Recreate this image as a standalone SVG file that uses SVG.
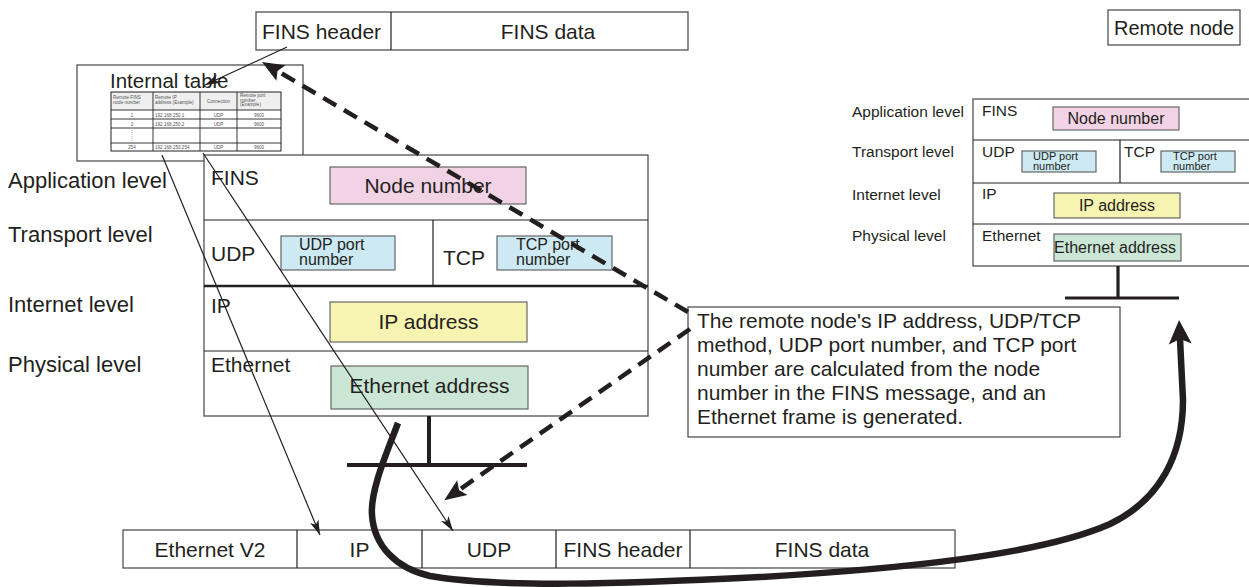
<svg xmlns="http://www.w3.org/2000/svg" width="1249" height="587" viewBox="0 0 1249 587">
<style>
.t{font-family:"Liberation Sans",Arial,Helvetica,sans-serif;fill:#231f20}
.box{fill:#fff;stroke:#444;stroke-width:1.2}
.ln{stroke:#231f20;stroke-width:1.2;fill:none}
.pink{fill:#f2d3e5;stroke:#666;stroke-width:1.2}
.blue{fill:#cde9f4;stroke:#666;stroke-width:1.2}
.yel{fill:#f7f3b1;stroke:#666;stroke-width:1.2}
.grn{fill:#cbe6d5;stroke:#666;stroke-width:1.2}
.f22{font-size:22px}
.f21{font-size:21px}
.f16{font-size:16px}
.f15{font-size:15.5px}
.f11{font-size:11px}
.tiny{font-size:4.6px;fill:#555}
.tc{text-anchor:middle}
.stub{stroke:#231f20;stroke-width:4;fill:none}
.thin{stroke:#231f20;stroke-width:1.2;fill:none}
.dash{stroke:#231f20;stroke-width:4.5;fill:none;stroke-dasharray:15 9}
.thick{stroke:#231f20;stroke-width:6.5;fill:none}
</style>
<defs>
<marker id="mThin" markerUnits="userSpaceOnUse" viewBox="-16 -6 18 12" refX="0" refY="0" markerWidth="18" markerHeight="12" orient="auto">
<path d="M0,0 L-15,-4.5 L-11,0 L-15,4.5 Z" fill="#231f20"/>
</marker>
<marker id="mDash" markerUnits="userSpaceOnUse" viewBox="-6 -10 26 20" refX="0" refY="0" markerWidth="26" markerHeight="20" orient="auto">
<path d="M18,0 L-4,-9 L0,0 L-4,9 Z" fill="#231f20"/>
</marker>
<marker id="mThick" markerUnits="userSpaceOnUse" viewBox="-6 -13 28 26" refX="0" refY="0" markerWidth="28" markerHeight="26" orient="auto">
<path d="M19,0 L-5,-11.5 L0,0 L-5,11.5 Z" fill="#231f20"/>
</marker>
</defs>

<g id="fins-message">
<rect class="box" x="256" y="12" width="432" height="38"/>
<line class="ln" x1="391" y1="12" x2="391" y2="50"/>
<text class="t f21" x="262" y="39">FINS header</text>
<text class="t f21 tc" x="548" y="39">FINS data</text>
</g>

<g id="internal-table">
<rect class="box" x="77" y="65" width="226" height="96"/>
<text class="t" x="110" y="88" font-size="20.5">Internal table</text>
<rect x="111" y="92" width="170" height="18" fill="#efefef"/>
<rect x="111" y="92" width="170" height="59" fill="none" stroke="#231f20" stroke-width="1"/>
<g stroke="#231f20" stroke-width="0.9">
<line x1="111" y1="110" x2="281" y2="110"/>
<line x1="111" y1="119" x2="281" y2="119"/>
<line x1="111" y1="128" x2="281" y2="128"/>
<line x1="111" y1="143" x2="281" y2="143"/>
<line x1="153" y1="92" x2="153" y2="151"/>
<line x1="200" y1="92" x2="200" y2="151"/>
<line x1="237" y1="92" x2="237" y2="151"/>
</g>
<line x1="132" y1="130" x2="132" y2="141" stroke="#777" stroke-width="0.6" stroke-dasharray="1 1"/>
<text class="t tiny" x="113" y="99">Remote FINS</text>
<text class="t tiny" x="113" y="104">node number</text>
<text class="t tiny" x="155" y="99">Remote IP</text>
<text class="t tiny" x="155" y="104">address (Example)</text>
<text class="t tiny tc" x="218.5" y="103">Connection</text>
<text class="t tiny" x="240" y="97">Remote port</text>
<text class="t tiny" x="240" y="101.5">number</text>
<text class="t tiny" x="240" y="106">(Example)</text>
<text class="t tiny tc" x="132" y="116.5">1</text>
<text class="t tiny" x="155" y="116.5">192.168.250.1</text>
<text class="t tiny tc" x="218.5" y="116.5">UDP</text>
<text class="t tiny tc" x="259" y="116.5">9600</text>
<text class="t tiny tc" x="132" y="125.5">2</text>
<text class="t tiny" x="155" y="125.5">192.168.250.2</text>
<text class="t tiny tc" x="218.5" y="125.5">UDP</text>
<text class="t tiny tc" x="259" y="125.5">9600</text>
<text class="t tiny tc" x="132" y="149">254</text>
<text class="t tiny" x="155" y="149">192.168.250.254</text>
<text class="t tiny tc" x="218.5" y="149">UDP</text>
<text class="t tiny tc" x="259" y="149">9600</text>
</g>

<g id="local-labels">
<text class="t f22" x="8" y="188">Application level</text>
<text class="t f22" x="8" y="242">Transport level</text>
<text class="t f22" x="8" y="312">Internet level</text>
<text class="t f22" x="8" y="372">Physical level</text>
</g>

<g id="local-stack">
<rect class="box" x="204" y="155" width="444" height="261"/>
<line class="ln" x1="204" y1="220" x2="648" y2="220"/>
<line x1="204" y1="286" x2="648" y2="286" stroke="#231f20" stroke-width="2.4"/>
<line class="ln" x1="204" y1="351" x2="648" y2="351"/>
<line class="ln" x1="433" y1="220" x2="433" y2="286"/>
<rect class="pink" x="330" y="167" width="196" height="37"/>
<rect class="blue" x="281" y="236" width="114" height="34"/>
<rect class="blue" x="497" y="236" width="115" height="34"/>
<rect class="yel" x="330" y="302" width="197" height="40"/>
<rect class="grn" x="331" y="366" width="197" height="43"/>
<text class="t f21" x="211" y="185">FINS</text>
<text class="t f21 tc" x="428" y="193">Node number</text>
<text class="t f21" x="211" y="261">UDP</text>
<text class="t f16" x="299" y="250">UDP port</text>
<text class="t f16" x="299" y="265">number</text>
<text class="t f21" x="443" y="265">TCP</text>
<text class="t f16" x="516" y="250">TCP port</text>
<text class="t f16" x="516" y="265">number</text>
<text class="t f21" x="211" y="313">IP</text>
<text class="t f21 tc" x="428.5" y="329">IP address</text>
<text class="t f21" x="211" y="372">Ethernet</text>
<text class="t f21 tc" x="429.5" y="393">Ethernet address</text>
<path class="stub" d="M429 416 V465 M347 465 H527"/>
</g>

<g id="remote-node-label">
<rect class="box" x="1108" y="10" width="132" height="35"/>
<text class="t" x="1174" y="35" font-size="20" text-anchor="middle">Remote node</text>
</g>

<g id="remote-labels">
<text class="t f15" x="852" y="117">Application level</text>
<text class="t f15" x="852" y="157">Transport level</text>
<text class="t f15" x="852" y="200">Internet level</text>
<text class="t f15" x="852" y="241">Physical level</text>
</g>

<g id="remote-stack">
<rect class="box" x="973" y="99" width="280" height="167"/>
<line class="ln" x1="973" y1="140" x2="1249" y2="140"/>
<line class="ln" x1="973" y1="183" x2="1249" y2="183"/>
<line class="ln" x1="973" y1="224" x2="1249" y2="224"/>
<line class="ln" x1="1120" y1="140" x2="1120" y2="183"/>
<rect class="pink" x="1053" y="107" width="126" height="23"/>
<rect class="blue" x="1022" y="151" width="74" height="21"/>
<rect class="blue" x="1161" y="151" width="74" height="21"/>
<rect class="yel" x="1054" y="193" width="126" height="25"/>
<rect class="grn" x="1054" y="234" width="127" height="27"/>
<text class="t f15" x="982" y="116">FINS</text>
<text class="t f16 tc" x="1116" y="124">Node number</text>
<text class="t f15" x="982" y="157">UDP</text>
<text class="t f11" x="1033" y="160">UDP port</text>
<text class="t f11" x="1033" y="170">number</text>
<text class="t f15" x="1124" y="157">TCP</text>
<text class="t f11" x="1173" y="160">TCP port</text>
<text class="t f11" x="1173" y="170">number</text>
<text class="t f15" x="982" y="199">IP</text>
<text class="t f16 tc" x="1117" y="211">IP address</text>
<text class="t f15" x="982" y="241">Ethernet</text>
<text class="t f16 tc" x="1115" y="253">Ethernet address</text>
<path d="M1118 266 V298 M1065 298 H1179" stroke="#231f20" stroke-width="3.2" fill="none"/>
</g>

<g id="callout">
<rect class="box" x="688" y="307" width="432" height="130"/>
<text class="t f21" x="697" y="328">The remote node's IP address, UDP/TCP</text>
<text class="t f21" x="697" y="352">method, UDP port number, and TCP port</text>
<text class="t f21" x="697" y="376">number are calculated from the node</text>
<text class="t f21" x="697" y="400">number in the FINS message, and an</text>
<text class="t f21" x="697" y="424">Ethernet frame is generated.</text>
</g>

<g id="ethernet-frame">
<rect class="box" x="123" y="530" width="832" height="38"/>
<line class="ln" x1="297" y1="530" x2="297" y2="568"/>
<line class="ln" x1="422" y1="530" x2="422" y2="568"/>
<line class="ln" x1="556" y1="530" x2="556" y2="568"/>
<line class="ln" x1="690" y1="530" x2="690" y2="568"/>
<text class="t f21 tc" x="210" y="557">Ethernet V2</text>
<text class="t f21 tc" x="359.5" y="557">IP</text>
<text class="t f21 tc" x="489" y="557">UDP</text>
<text class="t f21 tc" x="623" y="557">FINS header</text>
<text class="t f21 tc" x="822" y="557">FINS data</text>
</g>

<g id="connectors">
<path class="thin" d="M287 47 L205 85" marker-end="url(#mThin)"/>
<path class="thin" d="M162 155 L320 535" marker-end="url(#mThin)"/>
<path class="thin" d="M203 153 L453 531" marker-end="url(#mThin)"/>
<path class="dash" d="M688 312 L277.5 71" marker-end="url(#mDash)"/>
<path class="dash" d="M690 329 L459 490" marker-end="url(#mDash)"/>
<path class="thick" d="M398 423 C388 450 370 490 372 515 C374 545 395 568 430 576 C500 588 620 584 760 577 C900 569 1040 555 1110 524 C1160 500 1183 455 1183 400 L1180 339" marker-end="url(#mThick)"/>
</g>
</svg>
